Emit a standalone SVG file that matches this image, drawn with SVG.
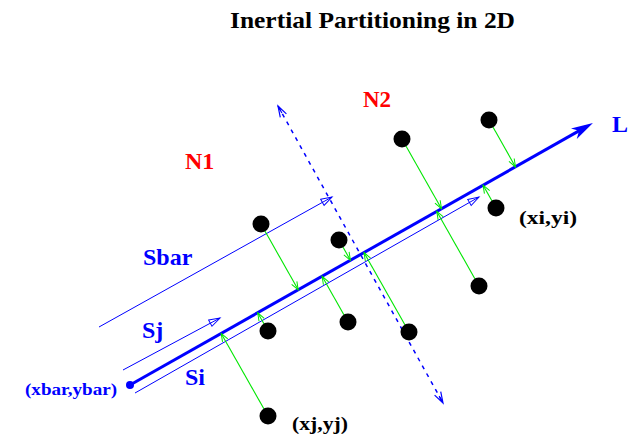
<svg xmlns="http://www.w3.org/2000/svg" width="631" height="435" viewBox="0 0 631 435">
<style>
.t{font-family:"Liberation Serif","Times New Roman",serif;font-weight:bold}
.blue{fill:#0000ff}
.red{fill:#ff0000}
.blk{fill:#000000}
.dot{fill:#000000}
.g{stroke:#00e600;stroke-width:1.1;fill:none;marker-end:url(#ah-green)}
.thin{stroke:#0000ff;stroke-width:1;fill:none;marker-end:url(#ah-thin)}
</style>
<defs>
<marker id="ah-main" markerUnits="userSpaceOnUse" markerWidth="26" markerHeight="14" refX="14" refY="7" orient="auto"><path d="M0,1 L22,7 L0,13 L6,7 Z" fill="#0000ff"/></marker>
<marker id="ah-thin" markerUnits="userSpaceOnUse" markerWidth="14" markerHeight="10" refX="12" refY="5" orient="auto"><path d="M1,1.5 L12,5 L1,8.5 Z" fill="none" stroke="#0000ff" stroke-width="1"/></marker>
<marker id="ah-dash" markerUnits="userSpaceOnUse" markerWidth="14" markerHeight="10" refX="12" refY="5" orient="auto-start-reverse"><path d="M1,1.5 L12,5 L1,8.5 M4,5 L12,5" fill="none" stroke="#0000ff" stroke-width="1.2"/></marker>
<marker id="ah-green" markerUnits="userSpaceOnUse" markerWidth="10" markerHeight="8" refX="9" refY="4" orient="auto"><path d="M1,1 L9,4 L1,7" fill="none" stroke="#00e600" stroke-width="1"/></marker>
</defs>
<rect width="631" height="435" fill="#ffffff"/>
<text id="title" class="t blk" x="230" y="28" font-size="24" textLength="285" lengthAdjust="spacingAndGlyphs">Inertial Partitioning in 2D</text>
<g id="connectors">
<line id="L" x1="130" y1="385" x2="586" y2="126.9" stroke="#0000ff" stroke-width="3" marker-end="url(#ah-main)"/>
<line id="perp" x1="278" y1="106" x2="443" y2="403" stroke="#0000ff" stroke-width="1.5" stroke-dasharray="4,5" marker-start="url(#ah-dash)" marker-end="url(#ah-dash)"/>
<line id="sbar" class="thin" x1="99" y1="327" x2="332" y2="197"/>
<line id="sj" class="thin" x1="123" y1="370" x2="220" y2="318"/>
<line id="si" class="thin" x1="135" y1="393" x2="479" y2="197"/>
<line class="g" x1="261" y1="224" x2="298.2" y2="289.8"/>
<line class="g" x1="339" y1="240" x2="350.4" y2="260.3"/>
<line class="g" x1="402" y1="139" x2="441.5" y2="208.7"/>
<line class="g" x1="489" y1="120" x2="515.5" y2="166.9"/>
<line class="g" x1="496" y1="208" x2="483.1" y2="185.2"/>
<line class="g" x1="479" y1="286" x2="436.8" y2="211.4"/>
<line class="g" x1="348" y1="322" x2="322.1" y2="276.3"/>
<line class="g" x1="409" y1="332" x2="364" y2="252.6"/>
<line class="g" x1="268" y1="331" x2="257.7" y2="312.8"/>
<line class="g" x1="268" y1="416" x2="221.2" y2="333.4"/>
</g>
<g id="centroid"><circle cx="130" cy="385" r="4" fill="#0000ff"/><text class="t blue" x="25" y="395" font-size="16" textLength="92" lengthAdjust="spacingAndGlyphs">(xbar,ybar)</text></g>
<g id="p1"><circle class="dot" cx="261" cy="224" r="8.5"/></g>
<g id="p2"><circle class="dot" cx="339" cy="240" r="8.5"/></g>
<g id="p3"><circle class="dot" cx="402" cy="139" r="8.5"/></g>
<g id="p4"><circle class="dot" cx="489" cy="120" r="8.5"/></g>
<g id="pi"><circle class="dot" cx="496" cy="208" r="8.5"/><text class="t blk" x="519" y="224" font-size="19" textLength="58" lengthAdjust="spacingAndGlyphs">(xi,yi)</text></g>
<g id="p6"><circle class="dot" cx="479" cy="286" r="8.5"/></g>
<g id="p7"><circle class="dot" cx="348" cy="322" r="8.5"/></g>
<g id="p8"><circle class="dot" cx="409" cy="332" r="8.5"/></g>
<g id="p9"><circle class="dot" cx="268" cy="331" r="8.5"/></g>
<g id="pj"><circle class="dot" cx="268" cy="416" r="8.5"/><text class="t blk" x="292" y="430" font-size="19" textLength="56" lengthAdjust="spacingAndGlyphs">(xj,yj)</text></g>
<g id="labels">
<text class="t red" x="185" y="169" font-size="24">N1</text>
<text class="t red" x="363" y="107" font-size="23">N2</text>
<text class="t blue" x="612" y="132" font-size="24">L</text>
<text class="t blue" x="143" y="265" font-size="24">Sbar</text>
<text class="t blue" x="142" y="338" font-size="24">Sj</text>
<text class="t blue" x="185" y="385" font-size="24">Si</text>
</g>
</svg>
